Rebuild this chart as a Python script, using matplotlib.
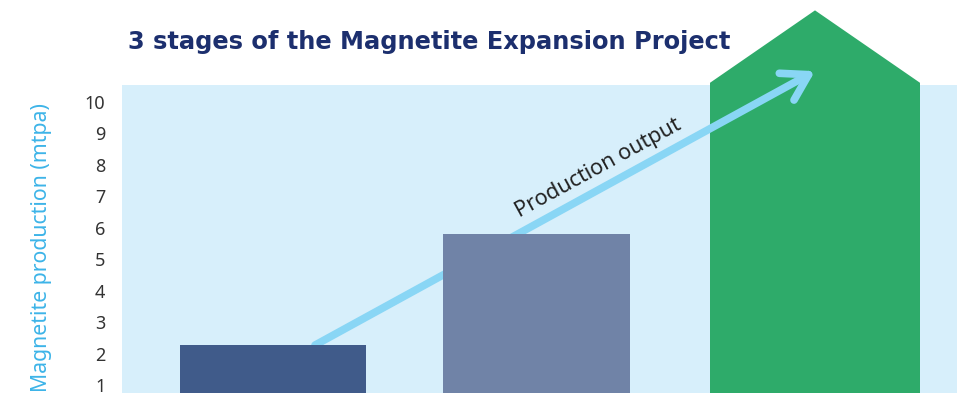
import matplotlib.pyplot as plt
from matplotlib.patches import FancyArrowPatch

# stage data (x in layout units, y in mtpa)
stage_x = [1.51, 4.145, 6.93]
stage_w = [1.86, 1.87, 2.10]
stage_values = [2.27, 5.8, 10.6]
stage_peak = 12.9          # roof tip of the expansion stage
stage_colors = ["#405b8a", "#7083a7", "#2eab6a"]
yticks = [1, 2, 3, 4, 5, 6, 7, 8, 9, 10]

title_txt = "3 stages of the Magnetite Expansion Project"
ylabel_txt = "Magnetite production (mtpa)"
arrow_txt = "Production output"

fig = plt.figure(figsize=(9.57, 3.93), dpi=100)
ax = fig.add_axes([122/957, 0, (957-122)/957, 308/393])
ax.set_facecolor("#d7effb")
ax.set_xlim(0, 8.35)
ax.set_ylim(0.75, 10.53)

for s in ax.spines.values():
    s.set_visible(False)

# first two stages as plain bars
ax.bar(stage_x[:2], stage_values[:2], width=stage_w[:2], bottom=0,
       color=stage_colors[:2], zorder=3)

# third stage drawn as a house shape poking out of the axes
x0 = stage_x[2] - stage_w[2]/2
x1 = stage_x[2] + stage_w[2]/2
ax.fill([x0, x0, stage_x[2], x1, x1],
        [0, stage_values[2], stage_peak, stage_values[2], 0],
        color=stage_colors[2], zorder=1, clip_on=False, lw=0)

# production arrow
arr = FancyArrowPatch((1.93, stage_values[0]), (stage_x[2], 10.97),
                      arrowstyle="->,head_length=0.9,head_width=0.55",
                      mutation_scale=20, lw=5.5, color="#89d6f5",
                      zorder=2, clip_on=False, shrinkA=0, shrinkB=0)
ax.add_patch(arr)

ax.text(4.76, 7.9, arrow_txt, rotation=28.7, rotation_mode="anchor",
        ha="center", va="center", fontsize=15.5, color="#222222",
        family="Noto Sans", zorder=4)

ax.set_xticks([])
ax.set_yticks(yticks)
ax.set_yticklabels([str(t) for t in yticks], family="Noto Sans",
                   fontsize=13, color="#333333")
ax.tick_params(axis="y", length=0, pad=12)

fig.text(42/957, 1-248/393, ylabel_txt, rotation=90, ha="center",
         va="center", fontsize=15.3, color="#3db4e8", family="Noto Sans")

fig.text(128/957, 1-42/393, title_txt, ha="left", va="center",
         fontsize=17.4, fontweight="bold", color="#1c2f6e",
         family="DejaVu Sans")

fig.savefig("out.png", dpi=100)
